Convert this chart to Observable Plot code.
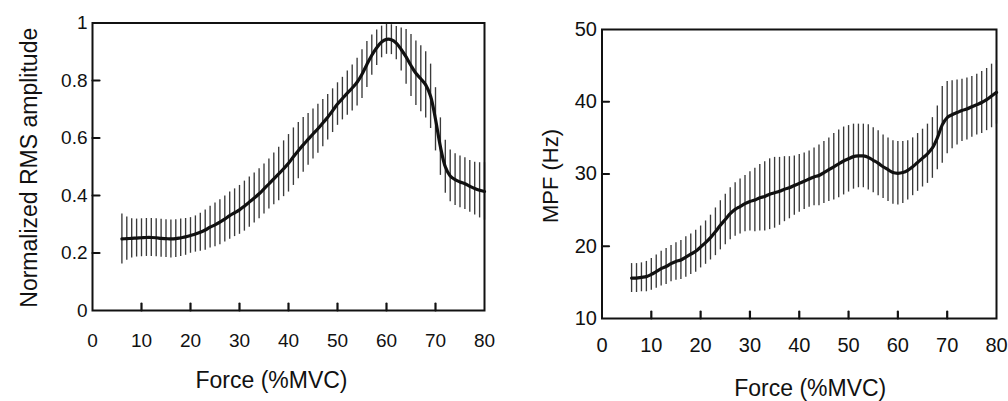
<!DOCTYPE html>
<html><head><meta charset="utf-8">
<script src="https://cdn.jsdelivr.net/npm/d3@7"></script>
<script src="https://cdn.jsdelivr.net/npm/@observablehq/plot@0.6"></script>
<style>
html,body{margin:0;padding:0;background:#fff;}
#wrap{position:relative;width:1008px;height:401px;overflow:hidden;background:#fff;}
#left{position:absolute;left:0;top:0;}
#right{position:absolute;left:500px;top:0;}
</style></head><body><div id="wrap"><div id="left"></div><div id="right"></div></div>
<script>
// Force (%MVC) sample positions (one error bar per 1 %MVC)
const force = [6,7,8,9,10,11,12,13,14,15,16,17,18,19,20,21,22,23,24,25,26,27,28,29,30,
  31,32,33,34,35,36,37,38,39,40,41,42,43,44,45,46,47,48,49,50,51,52,53,54,55,
  56,57,58,59,60,61,62,63,64,65,66,67,68,69,70,71,72,73,74,75,76,77,78,79,80];

// Left panel: normalized RMS amplitude, mean and SD
const rmsMean = [0.249,0.250,0.251,0.252,0.253,0.254,0.254,0.253,0.251,0.250,0.249,0.250,0.253,0.256,0.261,
  0.266,0.272,0.280,0.290,0.298,0.307,0.318,0.330,0.340,0.350,0.363,0.377,0.391,0.406,0.423,
  0.440,0.458,0.475,0.493,0.512,0.535,0.556,0.576,0.595,0.614,0.632,0.652,0.672,0.695,0.718,
  0.737,0.756,0.774,0.794,0.822,0.856,0.888,0.914,0.934,0.943,0.942,0.930,0.908,0.882,0.852,
  0.825,0.806,0.785,0.745,0.665,0.570,0.500,0.468,0.455,0.447,0.441,0.432,0.424,0.418,0.414];
const rmsSd = [0.087,0.075,0.068,0.066,0.066,0.066,0.066,0.066,0.066,0.066,0.066,0.066,0.065,0.064,0.062,
  0.063,0.066,0.070,0.073,0.076,0.078,0.080,0.082,0.083,0.085,0.087,0.087,0.087,0.087,0.087,
  0.087,0.090,0.093,0.097,0.100,0.100,0.098,0.095,0.090,0.087,0.085,0.082,0.079,0.076,0.074,
  0.074,0.077,0.080,0.083,0.085,0.080,0.070,0.062,0.055,0.052,0.052,0.058,0.075,0.095,0.108,
  0.112,0.115,0.115,0.112,0.110,0.100,0.092,0.090,0.090,0.090,0.090,0.090,0.092,0.096,0.100];

// Right panel: mean power frequency (Hz), mean and SD
const mpfMean = [15.6,15.6,15.7,15.8,16.1,16.5,16.9,17.2,17.6,17.9,18.1,18.5,18.9,19.3,19.9,
  20.5,21.2,22.0,22.9,23.7,24.5,25.1,25.5,25.9,26.2,26.4,26.7,26.9,27.2,27.4,
  27.6,27.9,28.1,28.4,28.7,29.0,29.3,29.6,29.8,30.2,30.6,31.0,31.4,31.8,32.1,
  32.4,32.5,32.5,32.3,31.9,31.5,31.0,30.6,30.2,30.1,30.2,30.5,31.0,31.6,32.2,
  32.8,33.6,35.0,36.8,37.8,38.2,38.5,38.8,39.0,39.3,39.6,39.9,40.3,40.8,41.3];
const mpfSd = [2.0,2.0,2.0,2.1,2.2,2.3,2.4,2.5,2.5,2.6,2.7,2.8,2.8,2.9,2.9,
  3.0,3.1,3.3,3.4,3.5,3.6,3.7,3.8,3.9,4.1,4.4,4.6,4.8,4.9,4.9,
  4.7,4.5,4.3,4.1,4.0,3.9,3.9,4.0,4.2,4.3,4.4,4.6,4.7,4.7,4.6,
  4.5,4.4,4.4,4.5,4.5,4.5,4.4,4.4,4.4,4.4,4.3,4.1,4.0,4.0,4.0,
  4.1,4.2,4.4,5.3,5.0,4.7,4.5,4.3,4.3,4.2,4.2,4.3,4.3,4.4,4.4];

// Tick labels
const xTickLabels = [0,10,20,30,40,50,60,70,80];
const xInnerTicks = [10,20,30,40,50,60,70];
const rmsTickLabels = [0,0.2,0.4,0.6,0.8,1];
const rmsInnerTicks = [0.2,0.4,0.6,0.8];
const mpfTickLabels = [10,20,30,40,50];
const mpfInnerTicks = [20,30,40];

const xTitle = "Force (%MVC)";
const FONT = "'Liberation Sans', Arial, Helvetica, sans-serif";
const INK = "#111";
// plain straight tick shape for Plot.vector
const tickShape = {draw(context, l) { context.moveTo(0, 0); context.lineTo(0, -l); }};

function panel(o) {
  const rows = force.map((f, i) => ({f, m: o.mean[i], lo: o.mean[i] - o.sd[i], hi: o.mean[i] + o.sd[i]}));
  const y0 = o.yDomain[0];
  return Plot.plot({
    width: o.width, height: 401,
    marginLeft: o.mL, marginRight: o.mR, marginTop: o.mT, marginBottom: o.mB,
    x: {domain: [0, 80]},
    y: {domain: o.yDomain},
    style: {fontFamily: FONT, color: INK, background: "white", overflow: "visible"},
    marks: [
      Plot.ruleX(rows, {x: "f", y1: "lo", y2: "hi", stroke: "#3a3a3a", strokeWidth: 1.35}),
      Plot.line(rows, {x: "f", y: "m", stroke: INK, strokeWidth: 3.2, curve: "catmull-rom"}),
      Plot.frame({stroke: INK, strokeWidth: 2}),
      // inward tick marks
      Plot.vector(xInnerTicks, {x: d => d, y: y0, length: 7, rotate: 0, anchor: "start", shape: tickShape, stroke: INK, strokeWidth: 2.2}),
      Plot.vector(o.yInner, {x: 0, y: d => d, length: 7, rotate: 90, anchor: "start", shape: tickShape, stroke: INK, strokeWidth: 2.2}),
      Plot.axisX(xTickLabels, {tickSize: 0, tickPadding: o.xPad, fontSize: o.tickFont, label: null}),
      Plot.axisY(o.yTicks, {tickSize: 0, tickPadding: 5, fontSize: o.tickFont, label: null, tickFormat: d3.format("")}),
      Plot.text([xTitle], {text: d => d, frameAnchor: "bottom", lineAnchor: "middle", textAnchor: "middle", dy: 70, dx: o.xTitleDx, fontSize: 23, fill: INK}),
      Plot.text([o.yTitle], {text: d => d, frameAnchor: "left", textAnchor: "middle", lineAnchor: "middle", rotate: -90, dx: o.yTitleDx, dy: o.yTitleDy, fontSize: o.yTitleFont, fill: INK})
    ]
  });
}

document.getElementById("left").append(panel({
  mean: rmsMean, sd: rmsSd, yDomain: [0, 1], yTicks: rmsTickLabels, yInner: rmsInnerTicks,
  yTitle: "Normalized RMS amplitude", width: 500, mL: 92, mR: 16, mT: 22.5, mB: 91,
  xPad: 23, tickFont: 19, xTitleDx: -17, yTitleDx: -63, yTitleDy: 1, yTitleFont: 23
}));
document.getElementById("right").append(panel({
  mean: mpfMean, sd: mpfSd, yDomain: [10, 50], yTicks: mpfTickLabels, yInner: mpfInnerTicks,
  yTitle: "MPF (Hz)", width: 508, mL: 101.5, mR: 12, mT: 29, mB: 83,
  xPad: 19, tickFont: 20, xTitleDx: 11, yTitleDx: -51.5, yTitleDy: 2, yTitleFont: 22
}));
</script></body></html>
